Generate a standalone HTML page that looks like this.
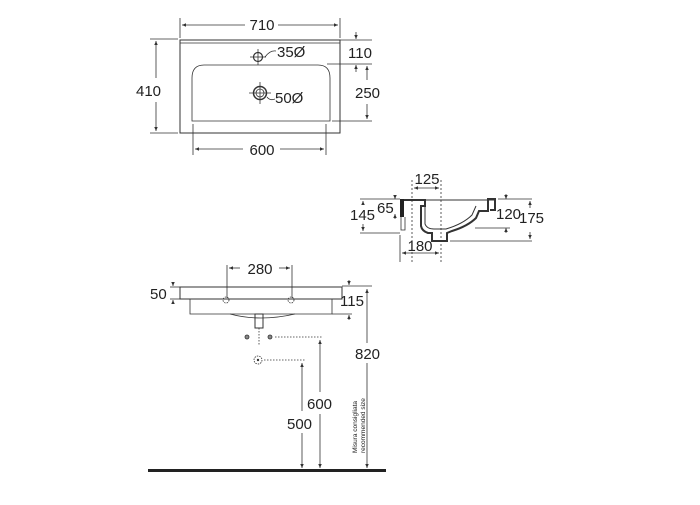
<!DOCTYPE html>
<html><head><style>body{margin:0;background:#fff}svg text{font-family:"Liberation Sans",sans-serif;fill:#222}</style></head>
<body><svg width="700" height="500" viewBox="0 0 700 500" xmlns="http://www.w3.org/2000/svg">
<defs><marker id="a" markerWidth="6" markerHeight="6" refX="5" refY="3" orient="auto-start-reverse"><path d="M0,0.8 L5,3 L0,5.2z" fill="#333"/></marker></defs>
<g stroke="#333" fill="none" stroke-width="0.8">
<!-- top view -->
<rect x="180" y="40" width="160" height="93" stroke-width="1"/>
<line x1="180" y1="43" x2="340" y2="43"/>
<path d="M204,65 H318 Q330,65 330,78 V121 H192 V78 Q192,65 204,65Z"/>
<circle cx="258" cy="57" r="4.5" stroke-width="1.2"/>
<line x1="250" y1="57" x2="266" y2="57"/><line x1="258" y1="49" x2="258" y2="65"/>
<circle cx="260" cy="93" r="6.5" stroke-width="1.5"/><circle cx="260" cy="93" r="4"/>
<line x1="249" y1="93" x2="271" y2="93"/><line x1="260" y1="82" x2="260" y2="104"/>
<path d="M265,57 Q270,50 276,51"/><path d="M267,97 Q270,101 275,99"/>
<line x1="180" y1="18" x2="180" y2="38"/><line x1="340" y1="18" x2="340" y2="38"/>
<line x1="182" y1="25" x2="245" y2="25" marker-start="url(#a)"/><line x1="278" y1="25" x2="338" y2="25" marker-end="url(#a)"/>
<line x1="150" y1="39" x2="178" y2="39"/><line x1="150" y1="133" x2="178" y2="133"/>
<line x1="156" y1="41" x2="156" y2="78" marker-start="url(#a)"/><line x1="156" y1="102" x2="156" y2="131" marker-end="url(#a)"/>
<line x1="340" y1="40" x2="372" y2="40"/><line x1="327" y1="64" x2="372" y2="64"/><line x1="332" y1="121" x2="372" y2="121"/>
<line x1="356" y1="32" x2="356" y2="39" marker-end="url(#a)"/><line x1="356" y1="72" x2="356" y2="65" marker-end="url(#a)"/>
<line x1="367" y1="66" x2="367" y2="80" marker-start="url(#a)"/><line x1="367" y1="104" x2="367" y2="119" marker-end="url(#a)"/>
<line x1="193" y1="124" x2="193" y2="155"/><line x1="326" y1="124" x2="326" y2="155"/>
<line x1="195" y1="149" x2="243" y2="149" marker-start="url(#a)"/><line x1="280" y1="149" x2="324" y2="149" marker-end="url(#a)"/>
<!-- side view -->
<rect x="400" y="199" width="4" height="18" fill="#222" stroke="none"/>
<path d="M401,217 V230 H405 V217"/>
<path d="M404,200 H425 V206 H421 V226 Q422,231 428,233 H432 V241 H447 V233 L452,231 Q468,226 476,218 L479,211 H488 L488,205 V199 H495 V210 H490" stroke-width="2"/>
<path d="M425,206 V224 Q427,229 434,229 L446,229 Q463,224 472,215 L476,206" stroke-width="1"/>
<line x1="404" y1="200" x2="495" y2="200" stroke-width="1"/>
<line x1="412" y1="180" x2="412" y2="262" stroke-dasharray="2,2"/><line x1="441" y1="180" x2="441" y2="262" stroke-dasharray="2,2"/>
<line x1="414" y1="188" x2="439" y2="188" marker-start="url(#a)" marker-end="url(#a)"/>
<line x1="360" y1="199" x2="400" y2="199"/><line x1="360" y1="233" x2="400" y2="233"/>
<line x1="363" y1="201" x2="363" y2="205" marker-start="url(#a)"/><line x1="363" y1="224" x2="363" y2="231" marker-end="url(#a)"/>
<line x1="395" y1="195" x2="395" y2="199" marker-end="url(#a)"/><line x1="395" y1="219" x2="395" y2="214" marker-end="url(#a)"/>
<line x1="400" y1="235" x2="400" y2="262"/>
<line x1="402" y1="253" x2="439" y2="253" marker-start="url(#a)" marker-end="url(#a)"/>
<line x1="498" y1="199" x2="532" y2="199"/><line x1="475" y1="228" x2="510" y2="228"/><line x1="450" y1="241" x2="532" y2="241"/>
<line x1="506" y1="194" x2="506" y2="199" marker-end="url(#a)"/><line x1="506" y1="233" x2="506" y2="228" marker-end="url(#a)"/>
<line x1="530" y1="201" x2="530" y2="208" marker-start="url(#a)"/><line x1="530" y1="232" x2="530" y2="239" marker-end="url(#a)"/>
<!-- front view -->
<rect x="180" y="287" width="162" height="12" stroke-width="1"/>
<path d="M190,299 V314 H332 V299"/>
<path d="M230,314 Q260,322 295,314"/>
<rect x="255" y="314" width="8" height="14" stroke-width="1"/>
<line x1="259" y1="328" x2="259" y2="346" stroke-dasharray="1.5,1.5"/>
<circle cx="226" cy="300" r="3" stroke-dasharray="1.5,1"/><circle cx="291" cy="300" r="3" stroke-dasharray="1.5,1"/>
<line x1="227" y1="265" x2="227" y2="298"/><line x1="292" y1="265" x2="292" y2="298"/>
<line x1="229" y1="268" x2="240" y2="268" marker-start="url(#a)"/><line x1="279" y1="268" x2="290" y2="268" marker-end="url(#a)"/>
<line x1="170" y1="287" x2="180" y2="287"/><line x1="170" y1="299" x2="180" y2="299"/>
<line x1="173" y1="282" x2="173" y2="286" marker-end="url(#a)"/><line x1="173" y1="304" x2="173" y2="300" marker-end="url(#a)"/>
<line x1="342" y1="286" x2="372" y2="286"/><line x1="332" y1="314" x2="352" y2="314"/>
<line x1="349" y1="280" x2="349" y2="285" marker-end="url(#a)"/><line x1="349" y1="320" x2="349" y2="315" marker-end="url(#a)"/>
<circle cx="247" cy="337" r="2" fill="#888"/><circle cx="270" cy="337" r="2" fill="#888"/>
<line x1="275" y1="337" x2="323" y2="337" stroke-dasharray="1.5,1.5"/>
<circle cx="258" cy="360" r="4" stroke-dasharray="1.5,1"/><circle cx="258" cy="360" r="0.8" fill="#333"/>
<line x1="264" y1="360" x2="306" y2="360" stroke-dasharray="1.5,1.5"/>
<line x1="320" y1="340" x2="320" y2="468" marker-start="url(#a)" marker-end="url(#a)"/>
<line x1="302" y1="363" x2="302" y2="468" marker-start="url(#a)" marker-end="url(#a)"/>
<line x1="367" y1="289" x2="367" y2="468" marker-start="url(#a)" marker-end="url(#a)"/>
</g>
<rect x="148" y="469" width="238" height="3" fill="#222"/>
<rect x="307" y="392" width="28" height="22" fill="#fff"/>
<rect x="288" y="411" width="28" height="22" fill="#fff"/>
<rect x="355" y="343" width="24" height="20" fill="#fff"/>
<g font-size="15">
<text x="262" y="30" text-anchor="middle">710</text>
<text x="136" y="96">410</text>
<text x="277" y="57">35Ø</text>
<text x="275" y="103">50Ø</text>
<text x="348" y="58">110</text>
<text x="355" y="98">250</text>
<text x="262" y="155" text-anchor="middle">600</text>
<text x="427" y="184" text-anchor="middle">125</text>
<text x="350" y="220">145</text>
<text x="377" y="213">65</text>
<text x="420" y="251" text-anchor="middle">180</text>
<text x="496" y="219">120</text>
<text x="519" y="223">175</text>
<text x="260" y="274" text-anchor="middle">280</text>
<text x="150" y="299">50</text>
<text x="340" y="306">115</text>
<text x="355" y="359">820</text>
<text x="307" y="409">600</text>
<text x="287" y="429">500</text>
</g>
<g font-size="6.5" transform="translate(357,453) rotate(-90)"><text x="0" y="0">Misura consigliata</text><text x="0" y="8">recommended size</text></g>
</svg></body></html>
